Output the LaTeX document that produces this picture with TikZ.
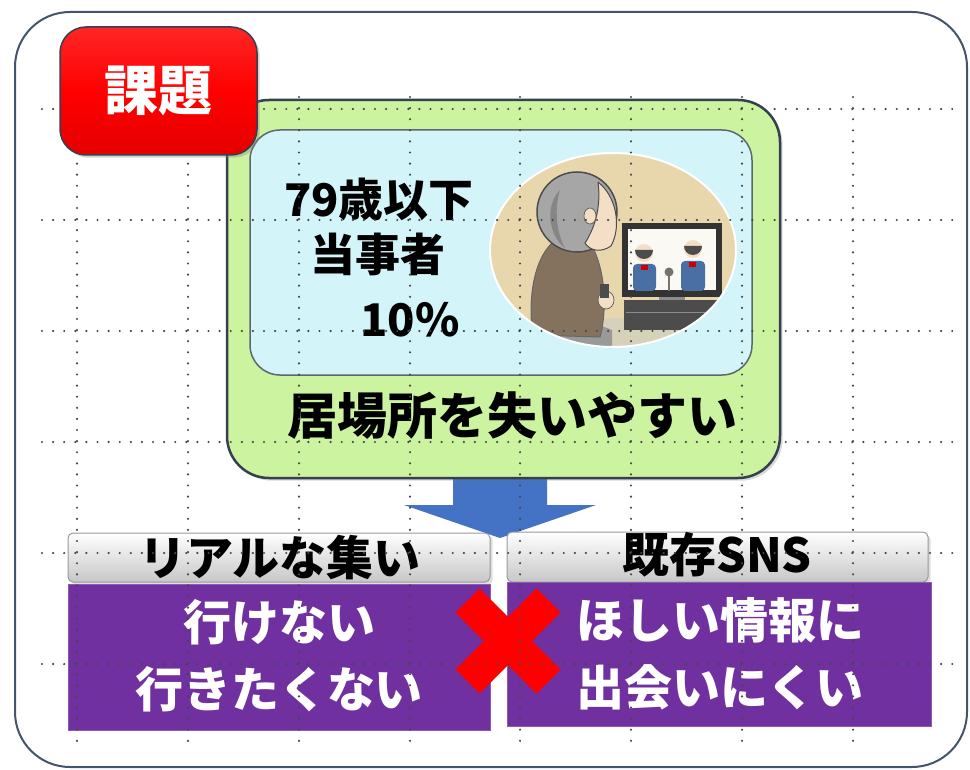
\documentclass[tikz,border=0pt]{standalone}
\usepackage{fontspec}
\setmainfont{Noto Sans CJK JP}[BoldFont={Noto Sans CJK JP Black}]
\usetikzlibrary{calc,shadows,positioning}

\definecolor{framegray}{HTML}{44546A}
\definecolor{badgered}{HTML}{FF0000}
\definecolor{edgedark}{HTML}{34404F}
\definecolor{softgreen}{HTML}{CBF3A0}
\definecolor{softcyan}{HTML}{D3F5F9}
\definecolor{violet}{HTML}{7030A0}
\definecolor{arrowblue}{HTML}{4472C4}
\definecolor{wallbeige}{HTML}{E8D6AC}
\definecolor{floorgray}{HTML}{D6D2BA}
\definecolor{skin}{HTML}{F3DFC6}
\definecolor{coat}{HTML}{85725E}
\definecolor{suitblue}{HTML}{4A6FA5}

\tikzset{
  frame/.style={draw=framegray, line width=2pt, rounded corners=55pt},
  badge/.style={draw=edgedark, line width=1.5pt, rounded corners=26pt,
    top color=badgered!85!white, bottom color=badgered!90!black,
    middle color=badgered, drop shadow={opacity=0.35}},
  outerbox/.style={draw=edgedark, line width=2.5pt, rounded corners=42pt,
    fill=softgreen, drop shadow={opacity=0.3}},
  innerbox/.style={draw=edgedark!80, line width=1.5pt, rounded corners=30pt,
    fill=softcyan},
  headbox/.style={draw=black!40, line width=1pt, rounded corners=5pt,
    top color=white, bottom color=black!22, drop shadow={opacity=0.25}},
  violetbox/.style={fill=violet, draw=violet!80!white, line width=0.8pt},
  bigtext/.style={font=\bfseries\fontsize{48}{67}\selectfont, inner sep=0pt, align=center},
  midtext/.style={font=\bfseries\fontsize{45}{56}\selectfont, inner sep=0pt},
  gridline/.style={draw=black!72, line width=2.4pt, line cap=round,
    dash pattern=on 0pt off 11.1pt},
  crossbar/.style={draw=badgered, line width=34pt}
}

\begin{document}
\begin{tikzpicture}[x=1pt, y=-1pt]
  \useasboundingbox (0,0) rectangle (970,770);

  % rounded frame round everything
  \node[frame, minimum width=952, minimum height=755] (frame) at (491,389.5) {};

  % block arrow from the green box down between the two columns
  \coordinate (arrtop) at (500,478);
  \fill[arrowblue] ($(arrtop)+(-47,0)$) -- ($(arrtop)+(47,0)$) -- ($(arrtop)+(47,27)$)
    -- ($(arrtop)+(96,27)$) -- ($(arrtop)+(0,60)$) -- ($(arrtop)+(-96,27)$)
    -- ($(arrtop)+(-47,27)$) -- cycle;

  % green box with the cyan panel
  \node[outerbox, minimum width=553, minimum height=378] (green) at (503.5,289) {};
  \node[innerbox, minimum width=502, minimum height=245] (panel) at (501,252.5) {};

  \node[midtext] (age) at (379,199) {79歳以下};
  \node[midtext] (who) at (378,254) {当事者};
  \node[midtext] (rate) at (410,320) {10\%};
  \node[bigtext, font=\bfseries\fontsize{50}{60}\selectfont] (lose) at (512,416) {居場所を失いやすい};

  % picture: old man in front of the TV
  \begin{scope}
    \clip (613,250) ellipse [x radius=123, y radius=97];
    \fill[wallbeige] (480,140) rectangle (750,320);
    \fill[floorgray] (480,318) rectangle (750,360);
    % tv set
    \fill[black!45] (659,296) rectangle (685,302);
    \fill[black!70] (624,300) rectangle (720,330);
    \draw[black!45, line width=1pt] (626,313) -- (718,313);
    \fill[black!80] (622,223) rectangle (722,297);
    \fill[white!85!wallbeige] (628,229) rectangle (716,290);
    % people on the screen
    \fill[suitblue, rounded corners=4pt] (633,264) rectangle (656,291);
    \fill[suitblue, rounded corners=4pt] (681,261) rectangle (705,291);
    \fill[skin] (644,253) circle (9);
    \fill[skin] (693,249) circle (9);
    \fill[black!70] (635,250) arc (180:0:9) -- cycle;
    \fill[black!70] (684,246) arc (180:0:9) -- cycle;
    \fill[red!80!black] (641,265) rectangle (648,270);
    \fill[red!80!black] (689,262) rectangle (696,267);
    \fill[black!55] (668,276) rectangle (670,291);
    \fill[black!55] (669,272) circle (4.5);
    % the old man
    \fill[black!40] (535,322) .. controls (555,318) and (590,320) .. (612,330)
      -- (612,350) -- (530,350) -- cycle;
    \fill[coat, draw=black!60, line width=1pt] (552,243) .. controls (532,262) and (528,305) .. (533,335)
      -- (600,337) .. controls (607,312) and (606,272) .. (592,246) -- cycle;
    \fill[skin, draw=black!60, line width=0.8pt] (606,300) ellipse [x radius=8, y radius=9];
    \fill[black!70] (600,284) rectangle (609,298);
    \fill[black!35, draw=black!70, line width=1.5pt] (577,212) circle (40);
    \fill[black!48] (560,190) .. controls (545,205) and (548,235) .. (565,248)
      .. controls (555,230) and (555,205) .. (560,190);
    \fill[skin, draw=black!70, line width=1pt] (598,182) .. controls (616,196) and (622,226) .. (611,246)
      .. controls (601,253) and (590,251) .. (585,243) .. controls (596,226) and (601,205) .. (598,182);
    \fill[skin, draw=black!60, line width=0.8pt] (590,216) ellipse [x radius=6, y radius=8];
  \end{scope}
  \draw[white, line width=2pt] (613,250) ellipse [x radius=123, y radius=97];

  % two columns under the arrow
  \node[headbox, minimum width=422, minimum height=49] (realhead) at (279,557.5) {};
  \node[headbox, minimum width=421, minimum height=50] (snshead) at (717.5,557) {};
  \node[violetbox, minimum width=422, minimum height=146] (realbody) at (279,657) {};
  \node[violetbox, minimum width=424, minimum height=144] (snsbody) at (719,654) {};

  \node[bigtext, font=\bfseries\fontsize{47}{56}\selectfont] (real) at (280,558) {リアルな集い};
  \node[bigtext, font=\bfseries\fontsize{47}{56}\selectfont] (sns) at (717,555) {既存SNS};
  \node[bigtext, text=white] (cannot) at (279,656) {行けない\\行きたくない};
  \node[bigtext, text=white] (hardfind) at (720,654) {ほしい情報に\\出会いにくい};

  % red cross between the columns
  \coordinate (cross) at (508,641);
  \draw[crossbar] ($(cross)+(-40.5,-40.5)$) -- ($(cross)+(40.5,40.5)$);
  \draw[crossbar] ($(cross)+(40.5,-40.5)$) -- ($(cross)+(-40.5,40.5)$);

  % dotted guide grid laid over the slide
  \foreach \gx in {77,188,299,410,520,631,742,853}
    \draw[gridline] (\gx,97) -- (\gx,742);
  \foreach \gy in {109,220,331,442,553,664}
    \draw[gridline] (42,\gy) -- (955,\gy);

  % title badge on top
  \node[badge, minimum width=197, minimum height=128, text=white,
    font=\bfseries\fontsize{54}{60}\selectfont] (title) at (158.5,91) {課題};
\end{tikzpicture}
\end{document}
